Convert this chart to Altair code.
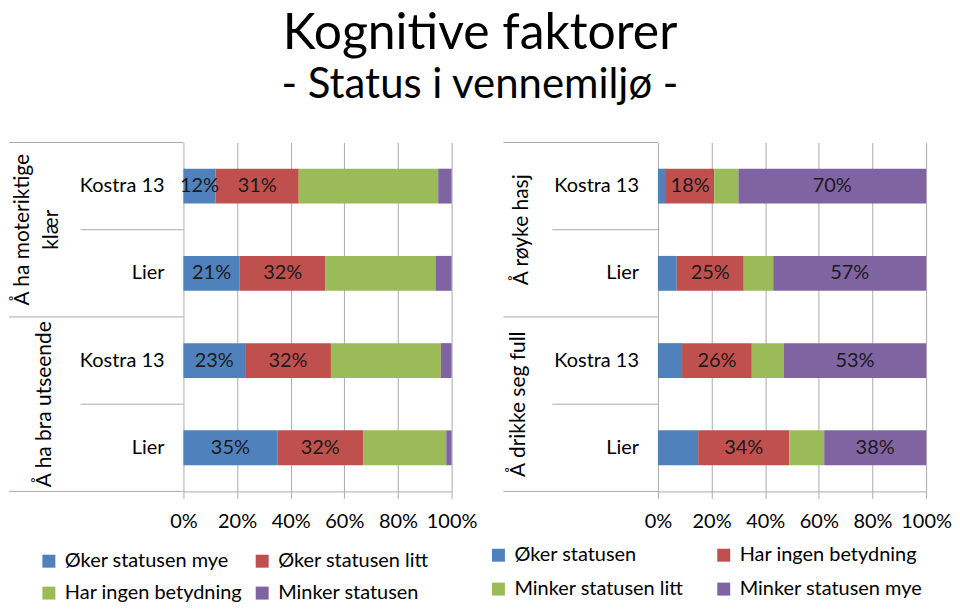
import altair as alt
import pandas as pd

# ---------------- data ----------------
title_text = "Kognitive faktorer"
subtitle_text = "- Status i vennemiljø -"
sub_labels = ["Kostra 13", "Lier"]

left_groups = [["Å ha moteriktige", "klær"], ["Å ha bra utseende"]]
left_series = ["Øker statusen mye", "Øker statusen litt", "Har ingen betydning", "Minker statusen"]
left_moteriktige_kostra = [12, 31, 52, 5]
left_moteriktige_lier = [21, 32, 41, 6]
left_utseende_kostra = [23, 32, 41, 4]
left_utseende_lier = [35, 32, 31, 2]
left_labelled = ["Øker statusen mye", "Øker statusen litt"]

right_groups = [["Å røyke hasj"], ["Å drikke seg full"]]
right_series = ["Øker statusen", "Har ingen betydning", "Minker statusen litt", "Minker statusen mye"]
right_hasj_kostra = [3, 18, 9, 70]
right_hasj_lier = [7, 25, 11, 57]
right_drikke_kostra = [9, 26, 12, 53]
right_drikke_lier = [15, 34, 13, 38]
right_labelled = ["Har ingen betydning", "Minker statusen mye"]

colors = ["#4F81BD", "#C0504D", "#9BBB59", "#8064A2"]
tick_values = [0, 0.2, 0.4, 0.6, 0.8, 1.0]

FONT = "Lato"
LINE = "#ABABAB"
W, H = 269, 350
LINE_H = 29


def panel(groups, values, series, labelled, table_x, inner_x, group_x, sub_x,
          legend_x, legend_y, col_pad, row_pad):
    rows, keys, sub_rows, group_rows, line_rows = [], [], [], [], []
    for gi, g in enumerate(groups):
        group_rows.append(dict(slot=gi * len(sub_labels) + len(sub_labels) / 2, text=g,
                               gx=group_x[gi]))
        line_rows.append(dict(slot=gi * len(sub_labels), kind="full"))
        for si, s in enumerate(sub_labels):
            key = f"{gi}-{si}"
            keys.append(key)
            sub_rows.append(dict(row=key, text=s))
            if si > 0:
                line_rows.append(dict(slot=gi * len(sub_labels) + si, kind="inner"))
            for k, name in enumerate(series):
                v = values[gi][si][k]
                rows.append(dict(row=key, series=name, order=k, value=v,
                                 label=f"{v}%", show=name in labelled))
    line_rows.append(dict(slot=len(groups) * len(sub_labels), kind="full"))
    n_slots = len(groups) * len(sub_labels)

    df = pd.DataFrame(rows)
    y_band = alt.Y("row:N", scale=alt.Scale(domain=keys, paddingInner=0.6, paddingOuter=0.3), axis=None)

    stacked = alt.Chart(df).transform_stack(
        stack="value", groupby=["row"], as_=["x0", "x1"], offset="normalize",
        sort=[alt.SortField("order", order="ascending")],
    )
    x_enc = alt.X(
        "x0:Q",
        scale=alt.Scale(domain=[0, 1], nice=False),
        axis=alt.Axis(values=tick_values, format=".0%", grid=True, gridColor=LINE,
                      tickColor=LINE, domainColor=LINE, tickSize=7, labelPadding=13,
                      labelOverlap=False, labelFlush=False,
                      labelFont=FONT, labelFontSize=20, labelColor="#000000"),
        title=None,
    )
    bars = stacked.mark_bar().encode(
        x=x_enc,
        x2="x1:Q",
        y=y_band,
        color=alt.Color(
            "series:N",
            scale=alt.Scale(domain=series, range=colors),
            sort=series,
            legend=alt.Legend(
                title=None, orient="none", legendX=legend_x, legendY=legend_y,
                direction="horizontal",
                columns=2, columnPadding=col_pad, rowPadding=row_pad, padding=0,
                symbolType="square", symbolSize=169, symbolStrokeWidth=0,
                labelFont=FONT, labelFontSize=20, labelColor="#000000",
                labelLimit=400, labelOffset=6,
            ),
        ),
        order=alt.Order("order:Q"),
    )
    labels = stacked.transform_filter("datum.show").transform_calculate(
        xm="(datum.x0 + datum.x1) / 2"
    ).mark_text(font=FONT, fontSize=20, color="#1a1a1a", baseline="middle").encode(
        x=alt.X("xm:Q", scale=alt.Scale(domain=[0, 1], nice=False)),
        y=y_band,
        text="label:N",
    )
    subs = alt.Chart(pd.DataFrame(sub_rows)).mark_text(
        font=FONT, fontSize=20, align="right", baseline="middle", color="#000000"
    ).encode(x=alt.value(sub_x), y=y_band, text="text:N")

    y_slot = alt.Y("slot:Q", scale=alt.Scale(domain=[0, n_slots], reverse=True, nice=False), axis=None)
    gl = alt.Chart(pd.DataFrame(group_rows)).mark_text(
        font=FONT, fontSize=21, angle=270, align="center", baseline="middle",
        color="#000000", lineHeight=LINE_H,
    ).encode(x=alt.X("gx:Q", scale=None), y=y_slot, text="text")
    ldf = pd.DataFrame(line_rows)
    full_lines = alt.Chart(ldf).transform_filter("datum.kind == 'full'").mark_rule(
        color=LINE, strokeWidth=1
    ).encode(x=alt.value(table_x), x2=alt.value(0), y=y_slot)
    inner_lines = alt.Chart(ldf).transform_filter("datum.kind == 'inner'").mark_rule(
        color=LINE, strokeWidth=1
    ).encode(x=alt.value(inner_x), x2=alt.value(0), y=y_slot)

    return alt.layer(bars, labels, subs, full_lines, inner_lines, gl).resolve_scale(
        y="independent"
    ).properties(width=W, height=H)


left = panel(
    left_groups,
    [[left_moteriktige_kostra, left_moteriktige_lier], [left_utseende_kostra, left_utseende_lier]],
    left_series, left_labelled,
    table_x=-175, inner_x=-103, group_x=[-161, -139], sub_x=-19,
    legend_x=-145, legend_y=410, col_pad=10, row_pad=12,
)
right = panel(
    right_groups,
    [[right_hasj_kostra, right_hasj_lier], [right_drikke_kostra, right_drikke_lier]],
    right_series, right_labelled,
    table_x=-155, inner_x=-106, group_x=[-136, -139], sub_x=-19,
    legend_x=-170, legend_y=404, col_pad=30, row_pad=14,
)

chart = alt.hconcat(left, right, spacing=207, bounds="flush", padding=0).resolve_scale(
    color="independent"
).properties(
    title=alt.TitleParams(
        text=title_text, subtitle=subtitle_text, anchor="middle",
        font=FONT, fontSize=50, fontWeight="normal", color="#000000",
        subtitleFont=FONT, subtitleFontSize=42, subtitleColor="#000000",
        subtitlePadding=6, offset=36,
    )
).configure_view(stroke=None)

chart.save("out.html", embed_options={"renderer": "svg", "actions": False})
